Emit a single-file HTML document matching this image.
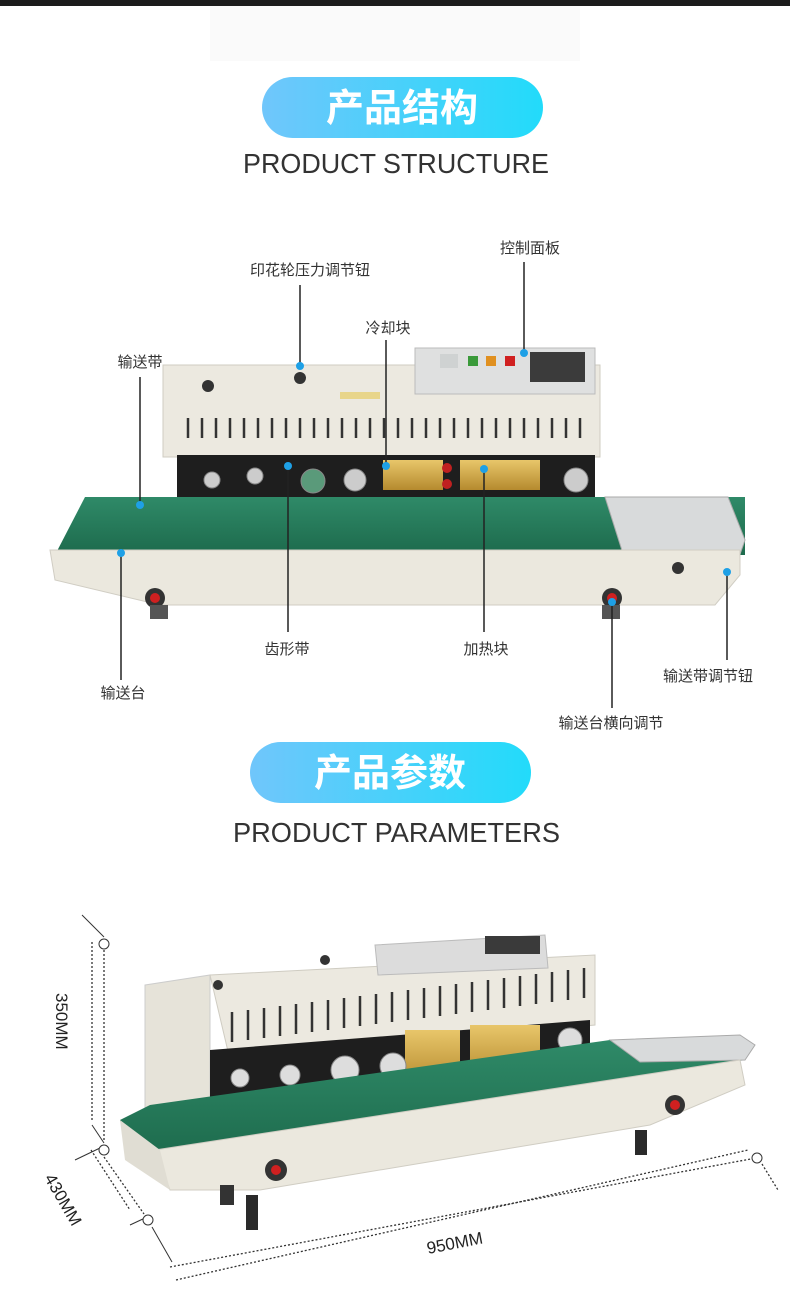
<!DOCTYPE html>
<html><head><meta charset="utf-8"><style>
body{margin:0;width:790px;height:1312px;background:#fff;overflow:hidden;font-family:"Liberation Sans","Noto Sans CJK SC",sans-serif}
svg{display:block}
</style></head><body>
<svg width="790" height="1312" viewBox="0 0 790 1312" xmlns="http://www.w3.org/2000/svg" font-family="Liberation Sans, Noto Sans CJK SC, sans-serif">
<defs>
<linearGradient id="pill" x1="0" x2="1"><stop offset="0" stop-color="#70c6fb"/><stop offset="1" stop-color="#22dbfa"/></linearGradient>
<linearGradient id="belt" x1="0" y1="0" x2="0" y2="1"><stop offset="0" stop-color="#2f8a68"/><stop offset="1" stop-color="#1d6a4c"/></linearGradient>
<linearGradient id="brass" x1="0" y1="0" x2="0" y2="1"><stop offset="0" stop-color="#e8c66a"/><stop offset="1" stop-color="#b58a2e"/></linearGradient>
</defs>
<rect x="0" y="0" width="790" height="6" fill="#1c1c1c"/>
<rect x="210" y="6" width="370" height="55" fill="#fafafa"/>
<!-- title 1 -->
<rect x="262" y="77" width="281" height="61" rx="30.5" fill="url(#pill)"/>
<text x="402" y="121" text-anchor="middle" font-size="38" font-weight="bold" fill="#fff">产品结构</text>
<text x="243" y="173" font-size="28" fill="#333" textLength="306" lengthAdjust="spacingAndGlyphs">PRODUCT STRUCTURE</text>

<!-- machine 1 -->
<g>
<rect x="163" y="365" width="437" height="92" fill="#ece9e0" stroke="#cfccc2"/>
<rect x="415" y="348" width="180" height="46" fill="#dfe0e0" stroke="#bbb"/>
<rect x="440" y="354" width="18" height="14" fill="#cfd2d2"/>
<rect x="468" y="356" width="10" height="10" fill="#3a9a3a"/>
<rect x="486" y="356" width="10" height="10" fill="#e09020"/>
<rect x="505" y="356" width="10" height="10" fill="#d02020"/>
<rect x="530" y="352" width="55" height="30" fill="#3b3b3b"/>
<circle cx="208" cy="386" r="6" fill="#333"/>
<circle cx="300" cy="378" r="6" fill="#333"/>
<rect x="340" y="392" width="40" height="7" fill="#e8d58a"/>
<g stroke="#333" stroke-width="2.5">
<line x1="188" y1="418" x2="188" y2="438"/><line x1="202" y1="418" x2="202" y2="438"/><line x1="216" y1="418" x2="216" y2="438"/><line x1="230" y1="418" x2="230" y2="438"/><line x1="244" y1="418" x2="244" y2="438"/><line x1="258" y1="418" x2="258" y2="438"/><line x1="272" y1="418" x2="272" y2="438"/><line x1="286" y1="418" x2="286" y2="438"/><line x1="300" y1="418" x2="300" y2="438"/><line x1="314" y1="418" x2="314" y2="438"/><line x1="328" y1="418" x2="328" y2="438"/><line x1="342" y1="418" x2="342" y2="438"/><line x1="356" y1="418" x2="356" y2="438"/><line x1="370" y1="418" x2="370" y2="438"/><line x1="384" y1="418" x2="384" y2="438"/><line x1="398" y1="418" x2="398" y2="438"/><line x1="412" y1="418" x2="412" y2="438"/><line x1="426" y1="418" x2="426" y2="438"/><line x1="440" y1="418" x2="440" y2="438"/><line x1="454" y1="418" x2="454" y2="438"/><line x1="468" y1="418" x2="468" y2="438"/><line x1="482" y1="418" x2="482" y2="438"/><line x1="496" y1="418" x2="496" y2="438"/><line x1="510" y1="418" x2="510" y2="438"/><line x1="524" y1="418" x2="524" y2="438"/><line x1="538" y1="418" x2="538" y2="438"/><line x1="552" y1="418" x2="552" y2="438"/><line x1="566" y1="418" x2="566" y2="438"/><line x1="580" y1="418" x2="580" y2="438"/>
</g>
<rect x="177" y="455" width="418" height="44" fill="#1e1e1e"/>
<rect x="383" y="460" width="60" height="30" fill="url(#brass)"/>
<rect x="460" y="460" width="80" height="30" fill="url(#brass)"/>
<circle cx="447" cy="468" r="5" fill="#c02020"/><circle cx="447" cy="484" r="5" fill="#c02020"/>
<g fill="#ccc" stroke="#888"><circle cx="212" cy="480" r="8"/><circle cx="255" cy="476" r="8"/><circle cx="313" cy="481" r="12" fill="#5a9a7a"/><circle cx="355" cy="480" r="11"/><circle cx="576" cy="480" r="12"/></g>
<polygon points="55,555 85,497 745,497 745,555" fill="url(#belt)"/>
<polygon points="605,497 728,497 745,540 738,560 625,560" fill="#d8dadb" stroke="#aaa"/>
<polygon points="50,550 740,550 740,575 715,605 160,605 55,580" fill="#ebe8de" stroke="#d0cdc3"/>
<circle cx="155" cy="598" r="10" fill="#333"/><circle cx="155" cy="598" r="5" fill="#d02020"/>
<circle cx="612" cy="598" r="10" fill="#333"/><circle cx="612" cy="598" r="5" fill="#d02020"/>
<rect x="150" y="605" width="18" height="14" fill="#555"/><rect x="602" y="605" width="18" height="14" fill="#555"/>
<circle cx="678" cy="568" r="6" fill="#333"/>
</g>
<!-- labels -->
<g font-size="15" fill="#333" text-anchor="middle">
<text x="310" y="275">印花轮压力调节钮</text>
<text x="530" y="253">控制面板</text>
<text x="388" y="333">冷却块</text>
<text x="140" y="367">输送带</text>
<text x="287" y="654">齿形带</text>
<text x="486" y="654">加热块</text>
<text x="123" y="698">输送台</text>
<text x="708" y="681">输送带调节钮</text>
<text x="611" y="728">输送台横向调节</text>
</g>
<g stroke="#222" stroke-width="1.5">
<line x1="300" y1="285" x2="300" y2="366"/>
<line x1="524" y1="262" x2="524" y2="353"/>
<line x1="386" y1="340" x2="386" y2="466"/>
<line x1="140" y1="377" x2="140" y2="505"/>
<line x1="288" y1="466" x2="288" y2="632"/>
<line x1="484" y1="469" x2="484" y2="632"/>
<line x1="121" y1="553" x2="121" y2="680"/>
<line x1="727" y1="572" x2="727" y2="660"/>
<line x1="612" y1="602" x2="612" y2="708"/>
</g>
<g fill="#1ea0e6">
<circle cx="300" cy="366" r="4"/><circle cx="524" cy="353" r="4"/><circle cx="386" cy="466" r="4"/><circle cx="140" cy="505" r="4"/><circle cx="288" cy="466" r="4"/><circle cx="484" cy="469" r="4"/><circle cx="121" cy="553" r="4"/><circle cx="727" cy="572" r="4"/><circle cx="612" cy="602" r="4"/>
</g>

<!-- title 2 -->
<rect x="250" y="742" width="281" height="61" rx="30.5" fill="url(#pill)"/>
<text x="390" y="786" text-anchor="middle" font-size="38" font-weight="bold" fill="#fff">产品参数</text>
<text x="233" y="842" font-size="28" fill="#333" textLength="327" lengthAdjust="spacingAndGlyphs">PRODUCT PARAMETERS</text>

<!-- machine 2 -->
<g>
<polygon points="145,985 210,975 210,1125 145,1125" fill="#e6e3d9" stroke="#ccc"/>
<polygon points="210,975 595,955 595,1025 230,1060" fill="#ece9e0" stroke="#cfccc2"/>
<polygon points="375,945 545,935 548,968 378,975" fill="#dcdcdc" stroke="#bbb"/>
<rect x="485" y="936" width="55" height="18" fill="#3a3a3a"/>
<circle cx="325" cy="960" r="5" fill="#333"/><circle cx="218" cy="985" r="5" fill="#333"/>
<g stroke="#333" stroke-width="2.5">
<line x1="232" y1="1012" x2="232" y2="1042"/><line x1="248" y1="1010" x2="248" y2="1040"/><line x1="264" y1="1008" x2="264" y2="1038"/><line x1="280" y1="1006" x2="280" y2="1036"/><line x1="296" y1="1004" x2="296" y2="1034"/><line x1="312" y1="1002" x2="312" y2="1032"/><line x1="328" y1="1000" x2="328" y2="1030"/><line x1="344" y1="998" x2="344" y2="1028"/><line x1="360" y1="996" x2="360" y2="1026"/><line x1="376" y1="994" x2="376" y2="1024"/><line x1="392" y1="992" x2="392" y2="1022"/><line x1="408" y1="990" x2="408" y2="1020"/><line x1="424" y1="988" x2="424" y2="1018"/><line x1="440" y1="986" x2="440" y2="1016"/><line x1="456" y1="984" x2="456" y2="1014"/><line x1="472" y1="982" x2="472" y2="1012"/><line x1="488" y1="980" x2="488" y2="1010"/><line x1="504" y1="978" x2="504" y2="1008"/><line x1="520" y1="976" x2="520" y2="1006"/><line x1="536" y1="974" x2="536" y2="1004"/><line x1="552" y1="972" x2="552" y2="1002"/><line x1="568" y1="970" x2="568" y2="1000"/><line x1="584" y1="968" x2="584" y2="998"/>
</g>
<polygon points="210,1050 590,1020 590,1060 210,1105" fill="#1e1e1e"/>
<rect x="405" y="1030" width="55" height="55" fill="url(#brass)"/>
<rect x="470" y="1025" width="70" height="55" fill="url(#brass)"/>
<g fill="#ddd" stroke="#888"><circle cx="240" cy="1078" r="9"/><circle cx="290" cy="1075" r="10"/><circle cx="345" cy="1070" r="14"/><circle cx="393" cy="1066" r="13"/><circle cx="570" cy="1040" r="12"/></g>
<polygon points="120,1120 150,1105 610,1040 745,1040 745,1060 170,1150 130,1160" fill="url(#belt)"/>
<polygon points="610,1040 740,1035 755,1045 745,1060 640,1062" fill="#d8dadb" stroke="#aaa"/>
<polygon points="155,1150 740,1060 745,1085 650,1125 260,1190 170,1190" fill="#ebe8de" stroke="#d0cdc3"/>
<polygon points="120,1120 160,1150 170,1190 125,1160" fill="#e0ddd3"/>
<circle cx="276" cy="1170" r="11" fill="#333"/><circle cx="276" cy="1170" r="5" fill="#d02020"/>
<circle cx="675" cy="1105" r="10" fill="#333"/><circle cx="675" cy="1105" r="5" fill="#d02020"/>
<rect x="246" y="1195" width="12" height="35" fill="#2a2a2a"/><rect x="635" y="1130" width="12" height="25" fill="#2a2a2a"/>
<rect x="220" y="1185" width="14" height="20" fill="#333"/>
</g>
<!-- dimensions -->
<g stroke="#333" stroke-width="1.3" stroke-dasharray="2,2" fill="none">
<line x1="92" y1="942" x2="92" y2="1120"/>
<line x1="104" y1="950" x2="104" y2="1142"/>
<line x1="104" y1="1157" x2="144" y2="1214"/>
<line x1="91" y1="1150" x2="130" y2="1210"/>
<line x1="170" y1="1267" x2="756" y2="1158"/>
<line x1="176" y1="1280" x2="748" y2="1150"/>
<line x1="762" y1="1164" x2="778" y2="1190"/>
</g>
<g stroke="#333" stroke-width="1" fill="none">
<line x1="82" y1="915" x2="104" y2="937"/>
<line x1="92" y1="1125" x2="104" y2="1143"/>
<line x1="75" y1="1160" x2="100" y2="1148"/>
<line x1="130" y1="1225" x2="145" y2="1218"/>
<line x1="152" y1="1227" x2="172" y2="1262"/>
</g>
<g fill="#fff" stroke="#333" stroke-width="1"><circle cx="104" cy="944" r="5"/><circle cx="104" cy="1150" r="5"/><circle cx="148" cy="1220" r="5"/><circle cx="757" cy="1158" r="5"/></g>
<text x="0" y="0" font-size="17" fill="#222" transform="translate(56,993) rotate(90)">350MM</text>
<text x="0" y="0" font-size="17" fill="#222" transform="translate(44,1178) rotate(60)">430MM</text>
<text x="0" y="0" font-size="17" fill="#222" transform="translate(428,1254) rotate(-11)">950MM</text>
</svg>
</body></html>
